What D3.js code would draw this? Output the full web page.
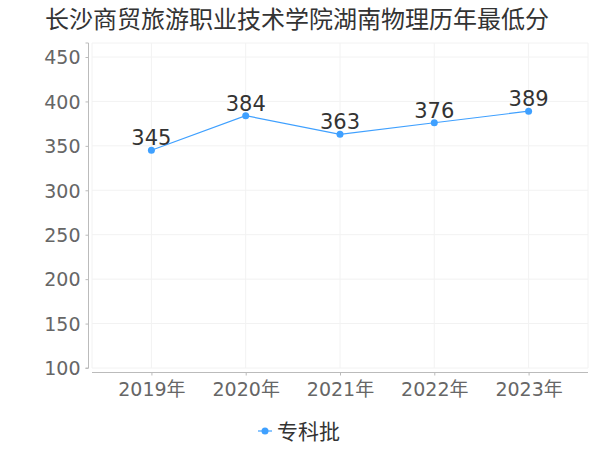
<!DOCTYPE html>
<html><head><meta charset="utf-8">
<script src="https://cdn.jsdelivr.net/npm/d3@7"></script>
<style>body{margin:0;background:#fff}svg{display:block}</style>
</head><body>
<svg id="c" width="600" height="450"></svg>
<script>
const title = "长沙商贸旅游职业技术学院湖南物理历年最低分";
const years = ["2019年","2020年","2021年","2022年","2023年"];
const scores = [345,384,363,376,389];
const seriesName = "专科批";
const yTicks = [100,150,200,250,300,350,400,450];

const font = "'DejaVu Sans','Noto Sans CJK SC',sans-serif";
const color = "#3fa0ff";
const svg = d3.select("#c");
const plot = {left:92,right:588,top:43,bottom:368};

const x = d3.scalePoint().domain(years).range([plot.left,plot.right]).padding(0.63);
const y = d3.scaleLinear().domain([100,450]).range([368,57]);

svg.append("text").attr("x",297).attr("y",28).attr("text-anchor","middle")
  .attr("font-family",font).attr("font-size",24).attr("fill","#333").text(title);

// grid
const g = svg.append("g");
g.selectAll(".hg").data(yTicks).join("line")
  .attr("x1",plot.left).attr("x2",plot.right).attr("y1",d=>y(d)).attr("y2",d=>y(d))
  .attr("stroke","#f2f2f2").attr("stroke-width",1);
g.append("line").attr("x1",plot.left).attr("x2",plot.right).attr("y1",plot.top).attr("y2",plot.top).attr("stroke","#f2f2f2");
const vx = [plot.left, ...years.map(d=>x(d)), plot.right];
g.selectAll(".vg").data(vx).join("line")
  .attr("x1",d=>d).attr("x2",d=>d).attr("y1",plot.top).attr("y2",plot.bottom)
  .attr("stroke","#f2f2f2").attr("stroke-width",1);

// y axis
const ya = svg.append("g").attr("transform","translate(88.5,0)")
  .call(d3.axisLeft(y).tickValues(yTicks).tickSize(3).tickPadding(5));
ya.select(".domain").attr("stroke","#bbb").attr("d",`M-3,${plot.top}H0V${plot.bottom}H-3`);
ya.selectAll(".tick line").attr("stroke","#bbb");
ya.selectAll("text").attr("font-family",font).attr("font-size",19).attr("fill","#666").attr("dy","0.36em");

// x axis
const xa = svg.append("g").attr("transform","translate(0,372.5)")
  .call(d3.axisBottom(x).tickSize(3).tickPadding(7));
xa.select(".domain").attr("stroke","#bbb").attr("d",`M${plot.left},0H${plot.right}`);
xa.selectAll(".tick line").attr("stroke","#bbb");
xa.selectAll("text").attr("font-family",font).attr("font-size",19).attr("fill","#666");

// line
const data = years.map((d,i)=>({year:d,v:scores[i]}));
svg.append("path").datum(data)
  .attr("d",d3.line().x(d=>x(d.year)).y(d=>y(d.v)))
  .attr("fill","none").attr("stroke",color).attr("stroke-width",1.2);
svg.selectAll(".pt").data(data).join("circle")
  .attr("cx",d=>x(d.year)).attr("cy",d=>y(d.v)).attr("r",3.5).attr("fill",color);
svg.selectAll(".lb").data(data).join("text")
  .attr("x",d=>x(d.year)).attr("y",d=>y(d.v)-5).attr("text-anchor","middle")
  .attr("font-family",font).attr("font-size",21).attr("fill","#333").text(d=>d.v);

// legend
const lg = svg.append("g");
lg.append("line").attr("x1",258).attr("x2",272).attr("y1",431).attr("y2",431).attr("stroke",color).attr("stroke-width",1.2);
lg.append("circle").attr("cx",265).attr("cy",431).attr("r",3.5).attr("fill",color);
lg.append("text").attr("x",277).attr("y",439).attr("font-family",font).attr("font-size",21).attr("fill","#333").text(seriesName);
</script>
</body></html>
